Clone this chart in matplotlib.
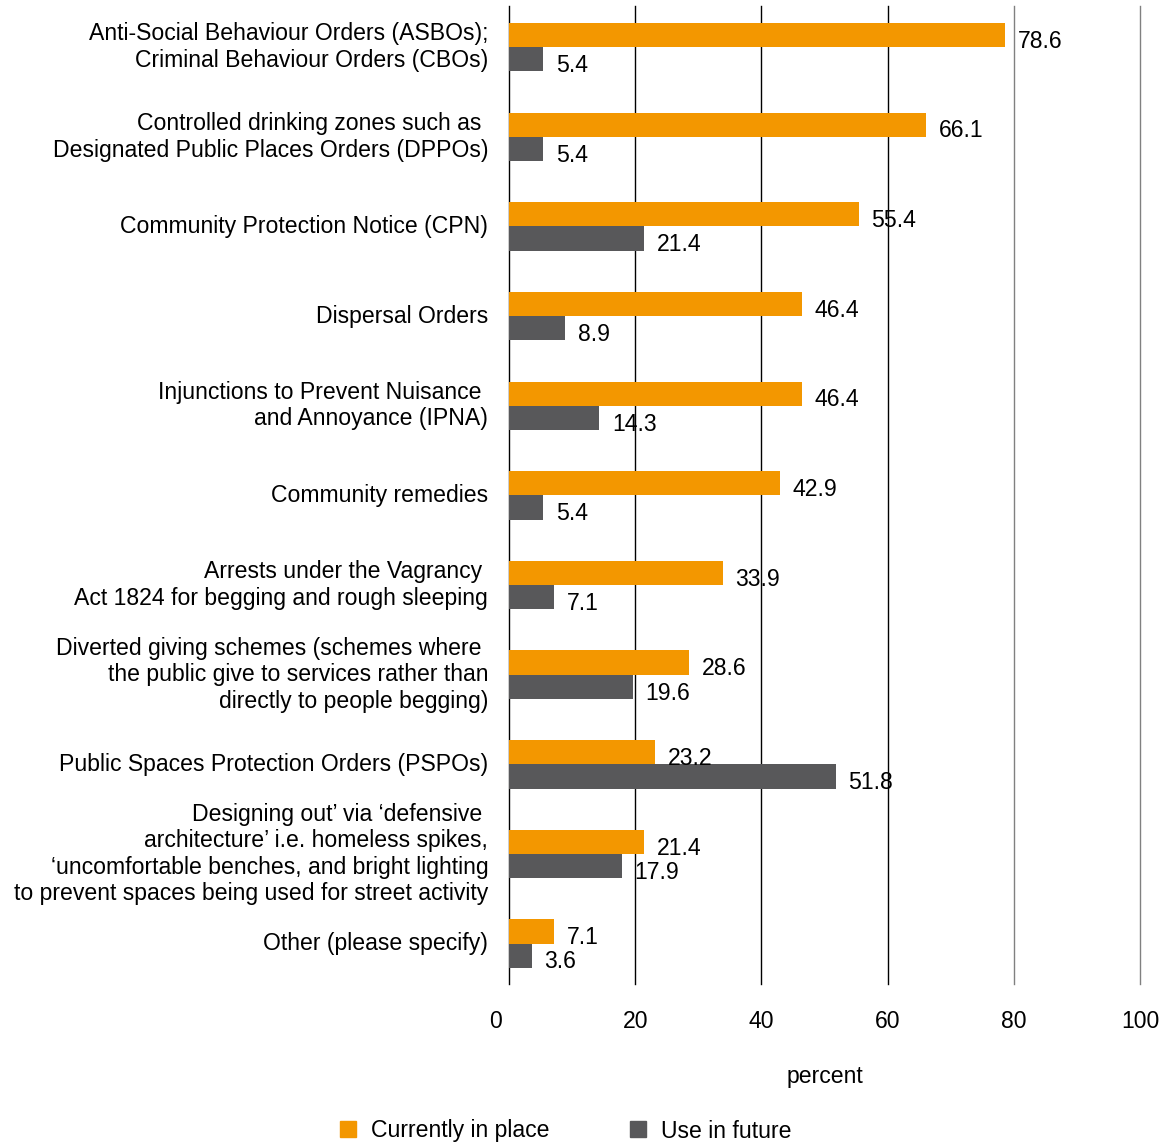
import numpy as np
import matplotlib
matplotlib.use('Agg')
import matplotlib.pyplot as plt
from matplotlib.lines import Line2D
import matplotlib.transforms as mtransforms

plt.rcParams['font.family'] = ['Liberation Sans', 'DejaVu Sans']

categories = [
    'Anti-Social Behaviour Orders (ASBOs);\nCriminal Behaviour Orders (CBOs)',
    'Controlled drinking zones such as \nDesignated Public Places Orders (DPPOs)',
    'Community Protection Notice (CPN)',
    'Dispersal Orders',
    'Injunctions to Prevent Nuisance \nand Annoyance (IPNA)',
    'Community remedies',
    'Arrests under the Vagrancy \nAct 1824 for begging and rough sleeping',
    'Diverted giving schemes (schemes where \nthe public give to services rather than\ndirectly to people begging)',
    'Public Spaces Protection Orders (PSPOs)',
    'Designing out\u2019 via \u2018defensive \narchitecture\u2019 i.e. homeless spikes,\n'
    '\u2018uncomfortable benches, and bright lighting\nto prevent spaces being used for street activity',
    'Other (please specify)',
]
current = [78.6, 66.1, 55.4, 46.4, 46.4, 42.9, 33.9, 28.6, 23.2, 21.4, 7.1]
future = [5.4, 5.4, 21.4, 8.9, 14.3, 5.4, 7.1, 19.6, 51.8, 17.9, 3.6]
series_names = ['Currently in place', 'Use in future']
xticks = [0, 20, 40, 60, 80, 100]

orange = '#F39700'
grey = '#58585A'
fs = 16.6

fig = plt.figure(figsize=(11.68, 11.42), dpi=100)
ax = fig.add_axes([0.4358, 0.1384, 0.5402, 0.8564])

y = np.arange(len(categories))
h = 0.27
ax.barh(y - h / 2, current, height=h, color=orange, zorder=3)
ax.barh(y + h / 2, future, height=h, color=grey, zorder=3)

# value labels
for yi, v in zip(y, current):
    ax.text(v + 2.0, yi - h / 2 + 0.07, f'{v:.1f}', va='center', ha='left', fontsize=fs, zorder=4)
for yi, v in zip(y, future):
    ax.text(v + 2.0, yi + h / 2 + 0.07, f'{v:.1f}', va='center', ha='left', fontsize=fs, zorder=4)

# vertical gridlines
for t in xticks[1:]:
    ax.axvline(t, color='black' if t < 80 else '#808080', lw=1.0, zorder=1, clip_on=False)

ax.set_xlim(0, 100)
ax.set_ylim(len(categories) - 1 + 0.45, -0.46)
ax.set_yticks(y)
ax.set_yticklabels(categories, fontsize=fs, ha='right', va='center', linespacing=1.19)
ax.tick_params(axis='y', length=0, pad=15)
ax.set_xticks(xticks)
ax.set_xticklabels([str(t) for t in xticks], fontsize=fs)
ax.tick_params(axis='x', length=0, pad=19)
lab0 = ax.get_xticklabels()[0]
lab0.set_transform(lab0.get_transform() + mtransforms.ScaledTranslation(-14 / 100, 0, fig.dpi_scale_trans))

for s in ['top', 'right', 'bottom']:
    ax.spines[s].set_visible(False)
ax.spines['left'].set_linewidth(1.0)

ax.set_xlabel('percent', fontsize=fs, labelpad=23)

handles = [Line2D([], [], marker='s', ls='', color=orange, markersize=11),
           Line2D([], [], marker='s', ls='', color=grey, markersize=11)]
fig.legend(handles, series_names, loc='center', bbox_to_anchor=(564 / 1168, 1 - 1131 / 1142),
           ncol=2, frameon=False, fontsize=fs, handletextpad=0.5, columnspacing=3.3,
           handlelength=1.0)

fig.savefig('out.png', dpi=100)
